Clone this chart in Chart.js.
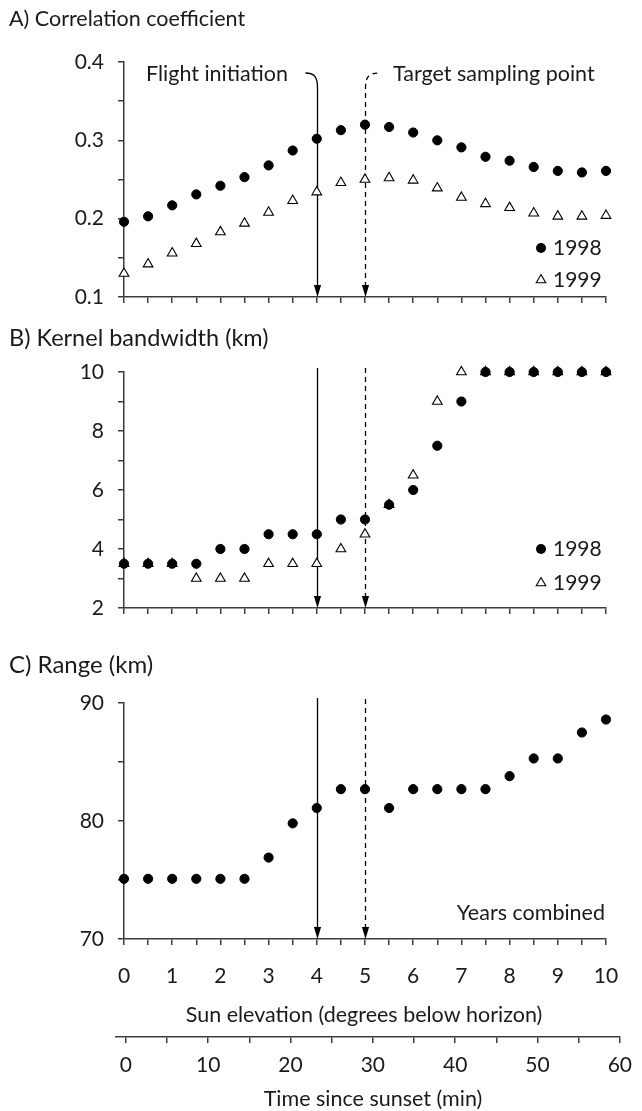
<!DOCTYPE html>
<html><head><meta charset="utf-8">
<script src="https://cdn.jsdelivr.net/npm/chart.js@4.4.1/dist/chart.umd.min.js"></script>
<style>
html,body{margin:0;padding:0;background:#fff;}
#wrap{position:relative;width:642px;height:1111px;overflow:hidden;background:#fff;}
canvas{position:absolute;left:0;top:0;}
</style></head><body>
<div id="wrap">
<canvas id="cA" width="642" height="1111"></canvas>
<canvas id="cB" width="642" height="1111"></canvas>
<canvas id="cC" width="642" height="1111"></canvas>
<canvas id="cD" width="642" height="1111"></canvas>
</div>
<script>
// ---------- DATA ----------
const sunElevation = [0,0.5,1,1.5,2,2.5,3,3.5,4,4.5,5,5.5,6,6.5,7,7.5,8,8.5,9,9.5,10];
const corr1998 = [0.196,0.203,0.217,0.231,0.242,0.253,0.268,0.287,0.302,0.313,0.320,0.317,0.310,0.300,0.291,0.279,0.274,0.266,0.261,0.259,0.261];
const corr1999 = [0.130,0.142,0.156,0.168,0.183,0.194,0.208,0.223,0.234,0.246,0.250,0.252,0.249,0.239,0.227,0.219,0.214,0.207,0.203,0.203,0.204];
const kern1998 = [3.5,3.5,3.5,3.5,4.0,4.0,4.5,4.5,4.5,5.0,5.0,5.5,6.0,7.5,9.0,10,10,10,10,10,10];
const kern1999 = [3.5,3.5,3.5,3.0,3.0,3.0,3.5,3.5,3.5,4.0,4.5,5.5,6.5,9.0,10,10,10,10,10,10,10];
const rangeCombined = [75.1,75.1,75.1,75.1,75.1,75.1,76.9,79.8,81.1,82.7,82.7,81.1,82.7,82.7,82.7,82.7,83.8,85.3,85.3,87.5,88.6];
const yTicksCorr = [0.1,0.2,0.3,0.4];
const yTicksKern = [2,4,6,8,10];
const yTicksRange = [70,80,90];
const xTicksSun = [0,1,2,3,4,5,6,7,8,9,10];
const xTicksTime = [0,10,20,30,40,50,60];
const eventFlight = 4;
const eventTarget = 5;
const seriesNames = ['1998','1999'];

// ---------- STYLE ----------
const FONT = "Lato, 'Open Sans', sans-serif";
const TXT = '#1a1a1a';
const AX = '#3c3c3c';
const TICK_SIZE = 21;
const LABEL_SIZE = 21.5;
Chart.defaults.font.family = FONT;
Chart.defaults.font.size = TICK_SIZE;
Chart.defaults.color = TXT;

const has = (arr, v) => arr.some(a => Math.abs(a - v) < 1e-9);
const pts = (xs, ys) => xs.map((x, i) => ({x: x, y: ys[i]}));

function drawTri(ctx, x, y, r) {
  ctx.beginPath();
  let rad = 0;
  for (let k = 0; k < 3; k++) {
    const px = x + Math.sin(rad) * r, py = y - Math.cos(rad) * r;
    if (k === 0) ctx.moveTo(px, py); else ctx.lineTo(px, py);
    rad += 2 * Math.PI / 3;
  }
  ctx.closePath();
  ctx.fillStyle = '#fff'; ctx.fill();
  ctx.strokeStyle = '#000'; ctx.lineWidth = 1.1; ctx.stroke();
}
function drawDot(ctx, x, y, r) {
  ctx.beginPath(); ctx.arc(x, y, r, 0, Math.PI * 2);
  ctx.fillStyle = '#000'; ctx.fill();
}

const decor = {
  id: 'decor',
  beforeDatasetsDraw(chart, args, o) {
    if (!o.arrows) return;
    const ctx = chart.ctx, ca = chart.chartArea, xs = chart.scales.x;
    const x1 = Math.round(xs.getPixelForValue(eventFlight)) + 0.5;
    const x2 = Math.round(xs.getPixelForValue(eventTarget)) + 0.5;
    const yb = ca.bottom;
    ctx.save();
    ctx.strokeStyle = '#000'; ctx.fillStyle = '#000'; ctx.lineWidth = 1.3;
    ctx.setLineDash([]);
    ctx.beginPath();
    if (o.hooks) {
      const hy = o.hookY;
      ctx.moveTo(x1 - 12, hy);
      ctx.bezierCurveTo(x1 - 3, hy, x1, hy + 4, x1, hy + 15);
    } else {
      ctx.moveTo(x1, ca.top - o.over);
    }
    ctx.lineTo(x1, yb - 10);
    ctx.stroke();
    ctx.setLineDash([5, 4]);
    ctx.beginPath();
    ctx.moveTo(x2, yb - 10);
    if (o.hooks) {
      const hy = o.hookY;
      ctx.lineTo(x2, hy + 15);
      ctx.bezierCurveTo(x2, hy + 4, x2 + 3, hy, x2 + 14, hy);
    } else {
      ctx.lineTo(x2, ca.top - o.over);
    }
    ctx.stroke();
    ctx.setLineDash([]);
    [x1, x2].forEach(x => {
      ctx.beginPath();
      ctx.moveTo(x, yb);
      ctx.lineTo(x - 3.6, yb - 12);
      ctx.lineTo(x + 3.6, yb - 12);
      ctx.closePath();
      ctx.fill();
    });
    ctx.restore();
  },
  afterDraw(chart, args, o) {
    const ctx = chart.ctx;
    ctx.save();
    ctx.textBaseline = 'middle';
    (o.texts || []).forEach(t => {
      ctx.font = (t.size || LABEL_SIZE) + 'px ' + FONT;
      ctx.textAlign = t.align || 'left';
      ctx.fillStyle = TXT;
      ctx.fillText(t.text, t.x, t.y);
    });
    ctx.font = TICK_SIZE + 'px ' + FONT;
    (o.legend || []).forEach(l => {
      if (l.marker === 'dot') drawDot(ctx, l.x, l.y, 5);
      else drawTri(ctx, l.x, l.y, 5.5);
      ctx.fillStyle = TXT; ctx.textAlign = 'left';
      ctx.fillText(l.text, l.x + 12, l.y);
    });
    ctx.restore();
  }
};

function axisCommon() {
  return {
    grid: {display: true, drawOnChartArea: false, drawTicks: true, tickLength: 6, color: AX, lineWidth: 1.5},
    border: {display: true, color: AX, width: 1.5}
  };
}

function panel(id, p) {
  const datasets = p.series.map((s, i) => ({
    label: s.label,
    data: pts(sunElevation, s.data),
    pointStyle: s.marker === 'dot' ? 'circle' : 'triangle',
    pointRadius: s.marker === 'dot' ? 4.6 : 5.6,
    pointBorderWidth: s.marker === 'dot' ? 1 : 1.1,
    pointBackgroundColor: s.marker === 'dot' ? '#000' : '#fff',
    pointBorderColor: '#000',
    showLine: false,
    clip: false
  }));
  const xh = 60;
  return new Chart(document.getElementById(id), {
    type: 'scatter',
    data: {datasets: datasets},
    plugins: [decor],
    options: {
      responsive: false, animation: false, events: [],
      layout: {padding: {left: 0, right: 36, top: p.top, bottom: 1111 - p.bottom - xh}},
      plugins: {legend: {display: false}, tooltip: {enabled: false}, decor: p.decor},
      scales: {
        x: Object.assign(axisCommon(), {
          type: 'linear', min: 0, max: 10,
          ticks: {stepSize: 0.5, padding: 19, color: TXT, font: {size: TICK_SIZE}, autoSkip: false, maxRotation: 0,
            callback: v => (p.xLabels && has(xTicksSun, v)) ? String(v) : ''},
          afterFit: s => { s.height = xh; }
        }),
        y: Object.assign(axisCommon(), {
          type: 'linear', min: p.ymin, max: p.ymax,
          ticks: {stepSize: p.step, padding: 14, color: TXT, font: {size: TICK_SIZE},
            callback: v => has(p.yLabels, v) ? p.fmt(v) : ''},
          afterFit: s => { s.width = 124; }
        })
      }
    }
  });
}

panel('cA', {
  top: 62, bottom: 297, ymin: 0.1, ymax: 0.4, step: 0.05, yLabels: yTicksCorr, fmt: v => v.toFixed(1),
  series: [{label: seriesNames[0], data: corr1998, marker: 'dot'}, {label: seriesNames[1], data: corr1999, marker: 'tri'}],
  decor: {
    arrows: true, hooks: true, hookY: 73,
    texts: [
      {text: 'A) Correlation coefficient', x: 9, y: 19, size: 21.5},
      {text: 'Flight initiation', x: 288, y: 74, align: 'right'},
      {text: 'Target sampling point', x: 393, y: 74}
    ],
    legend: [{marker: 'dot', text: seriesNames[0], x: 541, y: 248}, {marker: 'tri', text: seriesNames[1], x: 541, y: 280}]
  }
});

panel('cB', {
  top: 372, bottom: 608, ymin: 2, ymax: 10, step: 1, yLabels: yTicksKern, fmt: v => String(v),
  series: [{label: seriesNames[0], data: kern1998, marker: 'dot'}, {label: seriesNames[1], data: kern1999, marker: 'tri'}],
  decor: {
    arrows: true, hooks: false, over: 4,
    texts: [{text: 'B) Kernel bandwidth (km)', x: 9, y: 338, size: 23.5}],
    legend: [{marker: 'dot', text: seriesNames[0], x: 541, y: 549}, {marker: 'tri', text: seriesNames[1], x: 541, y: 583}]
  }
});

panel('cC', {
  top: 703, bottom: 939, ymin: 70, ymax: 90, step: 5, yLabels: yTicksRange, fmt: v => String(v), xLabels: true,
  series: [{label: 'Years combined', data: rangeCombined, marker: 'dot'}],
  decor: {
    arrows: true, hooks: false, over: 5,
    texts: [
      {text: 'C) Range (km)', x: 9, y: 665, size: 24},
      {text: 'Years combined', x: 605, y: 913, align: 'right'},
      {text: 'Sun elevation (degrees below horizon)', x: 364, y: 1015, align: 'center'}
    ]
  }
});

// time-since-sunset axis
new Chart(document.getElementById('cD'), {
  type: 'scatter',
  data: {datasets: []},
  plugins: [decor],
  options: {
    responsive: false, animation: false, events: [],
    layout: {padding: {left: 116, right: 12, top: 1027, bottom: 1111 - 1037 - 60}},
    plugins: {legend: {display: false}, tooltip: {enabled: false},
      decor: {texts: [{text: 'Time since sunset (min)', x: 373, y: 1099, align: 'center'}]}},
    scales: {
      x: Object.assign(axisCommon(), {
        type: 'linear', min: -1.19, max: 60,
        ticks: {padding: 10, color: TXT, font: {size: TICK_SIZE}, autoSkip: false, maxRotation: 0,
          callback: v => has(xTicksTime, v) ? String(v) : ''},
        afterBuildTicks: s => {
          const t = [];
          for (let v = 0; v <= 60; v += 5) t.push({value: v});
          s.ticks = t;
        },
        afterFit: s => { s.height = 60; }
      }),
      y: {display: false, min: 0, max: 1}
    }
  }
});
</script>
</body></html>
